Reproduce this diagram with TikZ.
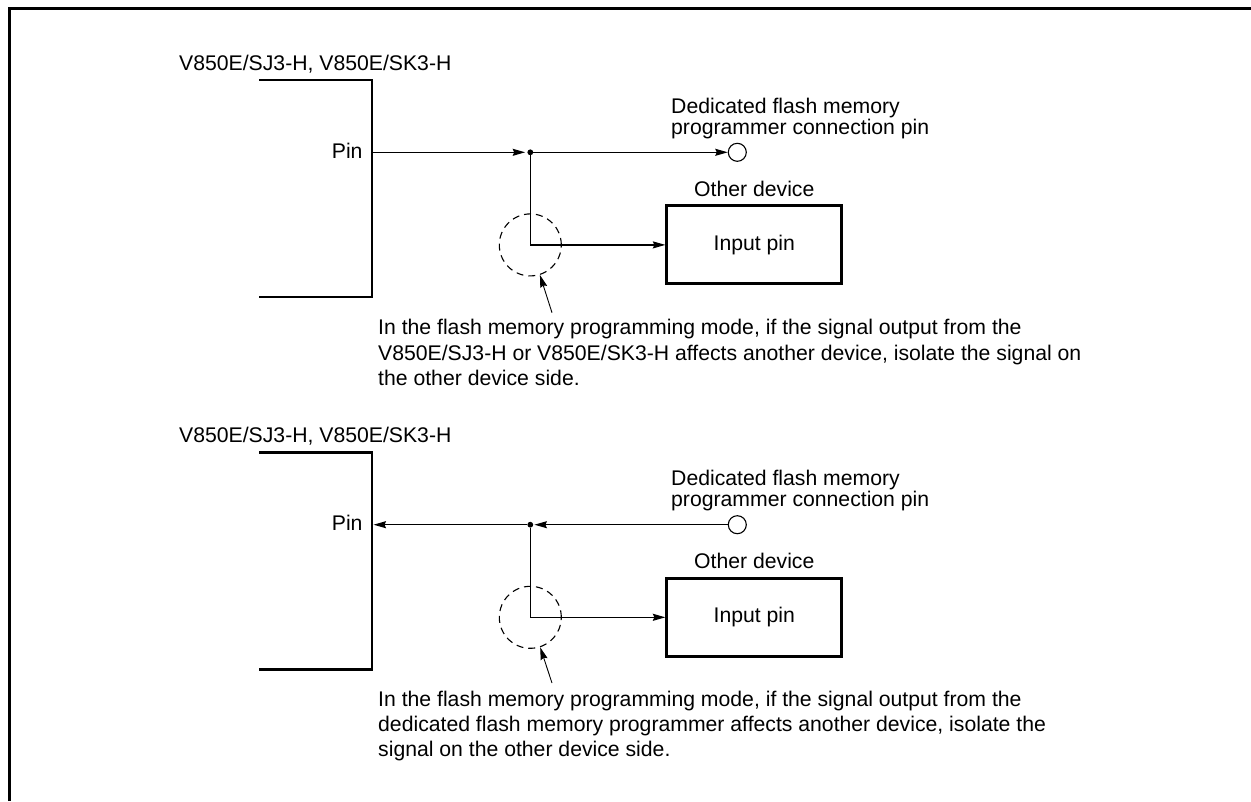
\documentclass[tikz,border=0pt]{standalone}
\usepackage{fontspec}
\setmainfont{Liberation Sans}
\usetikzlibrary{arrows.meta, positioning}

\begin{document}
\begin{tikzpicture}[
          x=1pt, y=-1pt,
          txt/.style={inner sep=0pt, font=\fontsize{21.2}{21.3}\selectfont},
          note/.style={inner sep=0pt, anchor=base west, align=left, font=\fontsize{21.2}{25.3}\selectfont},
          chipline/.style={line width=2.9pt, line join=miter},
          devbox/.style={
            rectangle, draw=black, line width=2.9pt, inner sep=0pt,
            minimum width=175pt, minimum height=78pt,
            font=\fontsize{21.2}{21.3}\selectfont
          },
          sig/.style={
            -{Stealth[length=12.5pt, width=7pt, inset=1.5pt]}, line width=1.2pt
          },
          junc/.style={circle, fill=black, inner sep=0pt, minimum size=5.8pt},
          connpin/.style={circle, draw=black, line width=1.1pt, inner sep=0pt, minimum size=18pt},
          iso/.style={circle, draw=black, line width=1.1pt, dash pattern=on 7pt off 5pt,
            inner sep=0pt, minimum size=62pt}
        ]
          \useasboundingbox (0,0) rectangle (1251,801);

          % outer frame
          \draw[line width=3pt] (9.5,801) -- (9.5,8.5) -- (1251,8.5);

          % upper circuit
          \node[txt, anchor=base west] (nameA) at (179,70) {V850E/SJ3-H, V850E/SK3-H};
          \draw[chipline] (259,80) -- (372,80) -- (372,297) -- (259,297);
          \coordinate (pinA) at (372,152.3);
          \node[txt, anchor=base east] (pinlabelA) at (362.7,158) {Pin};
          \node[junc] (juncA) at (530.3,152.3) {};
          \node[connpin] (connA) at (737.3,152.3) {};
          \node[txt, anchor=base west, align=left] (connlabelA) at (671,134.3) {Dedicated flash memory\\programmer connection pin};
          \node[devbox] (devA) at (754.3,244.9) {Input pin};
          \node[txt, above=7.5pt of devA] (otherA) {Other device};
          \node[iso] (isoA) at (530.3,244.9) {};
          \coordinate (ptrA) at (552,312.7);
          \node[note] (noteA) at (378,385.5) {In the flash memory programming mode, if the signal output from the\\V850E/SJ3-H or V850E/SK3-H affects another device, isolate the signal on\\the other device side.};

          \draw[sig, shorten >=2pt] (pinA) -- (juncA);
          \draw[sig] (juncA) -- (connA);
          \draw[sig] (juncA) |- (devA);
          \draw[sig, line width=0.9pt] (ptrA) -- (isoA);

          % lower circuit
          \node[txt, anchor=base west] (nameB) at (179,442) {V850E/SJ3-H, V850E/SK3-H};
          \draw[chipline] (259,452.4) -- (372,452.4) -- (372,669.4) -- (259,669.4);
          \coordinate (pinB) at (372,524.7);
          \node[txt, anchor=base east] (pinlabelB) at (362.7,530.4) {Pin};
          \node[junc] (juncB) at (530.3,524.7) {};
          \node[connpin] (connB) at (737.3,524.7) {};
          \node[txt, anchor=base west, align=left] (connlabelB) at (671,506.7) {Dedicated flash memory\\programmer connection pin};
          \node[devbox] (devB) at (754.3,617.3) {Input pin};
          \node[txt, above=7.5pt of devB] (otherB) {Other device};
          \node[iso] (isoB) at (530.3,617.3) {};
          \coordinate (ptrB) at (552,683);
          \node[note] (noteB) at (378,756.7) {In the flash memory programming mode, if the signal output from the\\dedicated flash memory programmer affects another device, isolate the\\signal on the other device side.};

          \draw[sig, shorten >=1.5pt] (juncB) -- (pinB);
          \draw[sig, shorten >=1pt] (connB) -- (juncB);
          \draw[sig] (juncB) |- (devB);
          \draw[sig, line width=0.9pt] (ptrB) -- (isoB);
        \end{tikzpicture}
\end{document}
